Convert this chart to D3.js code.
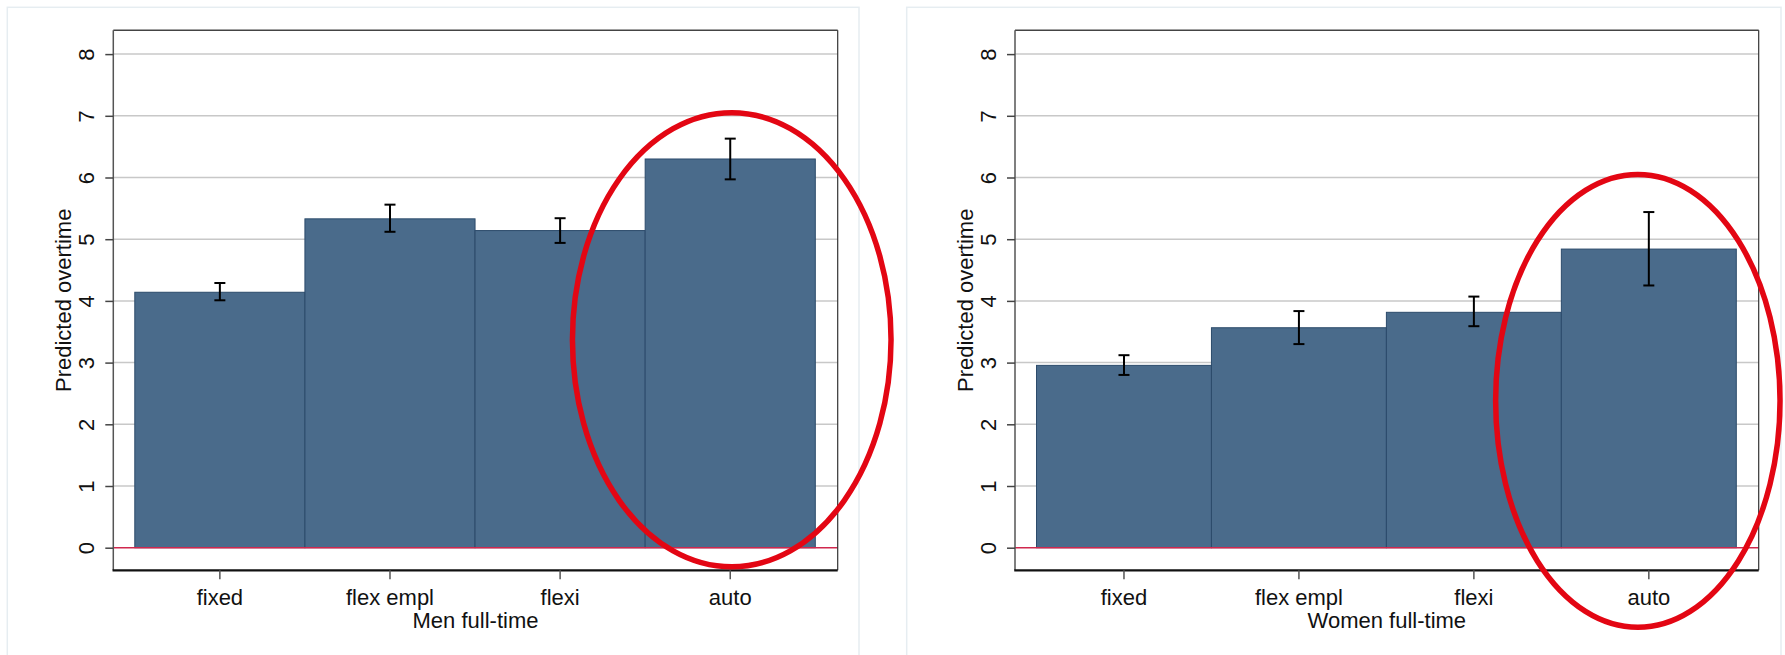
<!DOCTYPE html>
<html>
<head>
<meta charset="utf-8">
<script src="https://cdnjs.cloudflare.com/ajax/libs/d3/7.8.5/d3.min.js"></script>
<style>
  html, body { margin: 0; padding: 0; background: #ffffff; }
  svg { display: block; font-family: "Liberation Sans", Arial, sans-serif; }
</style>
</head>
<body>
<svg id="chart" width="1785" height="655"></svg>
<script>
// Predicted overtime by working-time arrangement, full-time employees
const categories = ["fixed", "flex empl", "flexi", "auto"];

const menValues = [4.14, 5.33, 5.14, 6.30];
const menLower  = [4.01, 5.12, 4.94, 5.97];
const menUpper  = [4.29, 5.56, 5.34, 6.63];

const womenValues = [2.955, 3.565, 3.815, 4.84];
const womenLower  = [2.80, 3.30, 3.59, 4.25];
const womenUpper  = [3.12, 3.835, 4.07, 5.44];

const yTicks = [0, 1, 2, 3, 4, 5, 6, 7, 8];
const panelTitles = ["Men full-time", "Women full-time"];
const yTitle = "Predicted overtime";

// highlight ring around the "auto" category (vertical extent in data units)
const ringTop    = [7.05, 6.05];
const ringBottom = [-0.31, -1.29];

const panels = [
  { title: panelTitles[0], values: menValues, lower: menLower, upper: menUpper,
    frame: { left: 113.3, right: 837.7, top: 30.3, bottom: 570.3 },
    box: { x: 7.3, y: 7.3, w: 851.7 },
    ring: { dx: 1.5, rx: 159.3, top: ringTop[0], bottom: ringBottom[0] } },
  { title: panelTitles[1], values: womenValues, lower: womenLower, upper: womenUpper,
    frame: { left: 1015, right: 1758.7, top: 30.3, bottom: 570.3 },
    box: { x: 906.7, y: 7.3, w: 874.3 },
    ring: { dx: -11, rx: 142.2, top: ringTop[1], bottom: ringBottom[1] } }
];

const svg = d3.select("#chart");
const y = d3.scaleLinear().domain([0, 8]).range([547.7, 54.1]);

panels.forEach(p => {
  const f = p.frame;
  const g = svg.append("g");

  // panel background box
  g.append("rect")
    .attr("x", p.box.x).attr("y", p.box.y)
    .attr("width", p.box.w).attr("height", 700)
    .attr("fill", "#ffffff")
    .attr("stroke", "#e6edf1").attr("stroke-width", 1.5);

  const x = d3.scaleBand()
    .domain(categories)
    .range([f.left + 21.5, f.right - 22.4])
    .paddingInner(0).paddingOuter(0);

  // horizontal grid
  g.append("g").selectAll("line")
    .data(yTicks.filter(t => t > 0))
    .join("line")
    .attr("x1", f.left).attr("x2", f.right)
    .attr("y1", d => y(d)).attr("y2", d => y(d))
    .attr("stroke", "#c8c8c8").attr("stroke-width", 1.5);

  // bars
  g.append("g").selectAll("rect")
    .data(categories.map((c, i) => ({ c, v: p.values[i] })))
    .join("rect")
    .attr("x", d => x(d.c))
    .attr("y", d => y(d.v))
    .attr("width", x.bandwidth())
    .attr("height", d => y(0) - y(d.v))
    .attr("fill", "#4a6b8b")
    .attr("stroke", "#2c4b6b").attr("stroke-width", 1);

  // zero reference line
  g.append("line")
    .attr("x1", f.left).attr("x2", f.right)
    .attr("y1", y(0)).attr("y2", y(0))
    .attr("stroke", "#d0284e").attr("stroke-width", 1.5);

  // confidence intervals
  const ci = g.append("g").attr("stroke", "#000").attr("stroke-width", 2);
  categories.forEach((c, i) => {
    const cx = x(c) + x.bandwidth() / 2;
    const lo = y(p.lower[i]), hi = y(p.upper[i]);
    ci.append("line").attr("x1", cx).attr("x2", cx).attr("y1", lo).attr("y2", hi);
    ci.append("line").attr("x1", cx - 5.5).attr("x2", cx + 5.5).attr("y1", lo).attr("y2", lo);
    ci.append("line").attr("x1", cx - 5.5).attr("x2", cx + 5.5).attr("y1", hi).attr("y2", hi);
  });

  // plot frame
  g.append("line").attr("x1", f.left).attr("x2", f.right).attr("y1", f.top).attr("y2", f.top)
    .attr("stroke", "#444").attr("stroke-width", 1.5);
  g.append("line").attr("x1", f.right).attr("x2", f.right).attr("y1", f.top).attr("y2", f.bottom)
    .attr("stroke", "#333").attr("stroke-width", 1.2);
  g.append("line").attr("x1", f.left).attr("x2", f.left).attr("y1", f.top).attr("y2", f.bottom)
    .attr("stroke", "#555").attr("stroke-width", 1.5);
  g.append("line").attr("x1", f.left - 0.75).attr("x2", f.right).attr("y1", f.bottom).attr("y2", f.bottom)
    .attr("stroke", "#111").attr("stroke-width", 2.2);

  // y axis
  const yAxis = d3.axisLeft(y).tickValues(yTicks).tickSize(8).tickPadding(0);
  const ya = g.append("g").attr("transform", `translate(${f.left},0)`).call(yAxis);
  ya.select(".domain").remove();
  ya.selectAll(".tick line").attr("stroke", "#444").attr("stroke-width", 1.5);
  ya.selectAll(".tick text")
    .attr("x", null).attr("dy", null)
    .attr("transform", "translate(-26.6,0) rotate(-90)")
    .attr("text-anchor", "middle")
    .attr("dy", "0.35em")
    .attr("font-size", 22)
    .attr("font-family", "Liberation Sans, Arial, sans-serif")
    .attr("fill", "#111");

  // x axis
  const xAxis = d3.axisBottom(x).tickSize(9).tickPadding(0);
  const xa = g.append("g").attr("transform", `translate(0,${f.bottom})`).call(xAxis);
  xa.select(".domain").remove();
  xa.selectAll(".tick line").attr("stroke", "#555").attr("stroke-width", 1.5);
  xa.selectAll(".tick text")
    .attr("y", 34.7).attr("dy", null)
    .attr("font-size", 22)
    .attr("font-family", "Liberation Sans, Arial, sans-serif")
    .attr("fill", "#111");

  // axis titles
  g.append("text")
    .attr("transform", `translate(${f.left - 50},${(f.top + f.bottom) / 2}) rotate(-90)`)
    .attr("text-anchor", "middle").attr("dy", "0.35em")
    .attr("font-size", 22).attr("fill", "#111")
    .text(yTitle);
  g.append("text")
    .attr("x", (f.left + f.right) / 2).attr("y", 627.7)
    .attr("text-anchor", "middle")
    .attr("font-size", 22).attr("fill", "#111")
    .text(p.title);

  // highlight ring around the last category
  const last = categories[categories.length - 1];
  const rcx = x(last) + x.bandwidth() / 2 + p.ring.dx;
  const yt = y(p.ring.top), yb = y(p.ring.bottom);
  g.append("ellipse")
    .attr("cx", rcx).attr("cy", (yt + yb) / 2)
    .attr("rx", p.ring.rx).attr("ry", (yb - yt) / 2)
    .attr("fill", "none")
    .attr("stroke", "#e30613").attr("stroke-width", 5.5);
});
</script>
</body>
</html>
